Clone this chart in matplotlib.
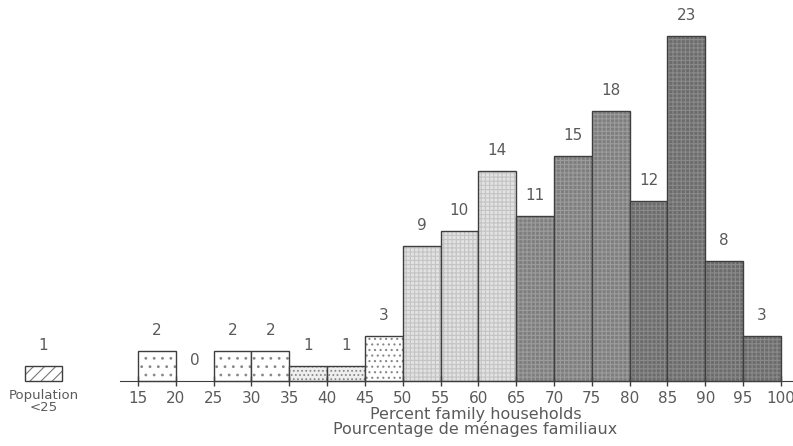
import numpy as np
import matplotlib.pyplot as plt

plt.rcParams['font.family'] = ['DejaVu Sans']
plt.rcParams['hatch.linewidth'] = 0.8

# bins (left edges) and counts
bin_left = [15, 20, 25, 30, 35, 40, 45, 50, 55, 60, 65, 70, 75, 80, 85, 90, 95]
counts = [2, 0, 2, 2, 1, 1, 3, 9, 10, 14, 11, 15, 18, 12, 23, 8, 3]
tick_vals = list(range(15, 101, 5))
pop_lt25 = 1

# shading class of each bin: face colour, hatch, hatch colour
faces = ['white'] * 4 + ['#eeeeee'] * 2 + ['white'] + ['#e2e2e2'] * 3 + ['#7e7e7e'] * 3 + ['#6c6c6c'] * 4
hatches = ['..'] * 4 + ['....'] * 2 + ['...'] + ['++++'] * 3 + ['++++'] * 3 + ['++++'] * 4
hcols = ['#888888'] * 7 + ['#c4c4c4'] * 3 + ['#9c9c9c'] * 3 + ['#8a8a8a'] * 4

txt = '#5a5a5a'
edge = '#3e3e3e'

fig = plt.figure(figsize=(7.93, 4.46), dpi=100)
ax = fig.add_axes([0, 0, 1, 1])
ax.set_xlim(-3.24, 101.6)
ax.set_ylim(-4.33, 25.4)

for x0, c, fc, h, hc in zip(bin_left, counts, faces, hatches, hcols):
    if c > 0:
        # fill + pattern, then the outline on top
        ax.bar(x0, c, width=5, align='edge', facecolor=fc, edgecolor=hc,
               hatch=h, linewidth=0)
        ax.bar(x0, c, width=5, align='edge', fill=False, edgecolor=edge,
               linewidth=1.0)
    ax.text(x0 + 2.5, c + 0.9, str(c), ha='center', va='bottom',
            fontsize=11, color=txt)

# legend box for population < 25
ax.bar(0, pop_lt25, width=5, align='edge', facecolor='white', edgecolor='#777777',
       hatch='///', linewidth=0)
ax.bar(0, pop_lt25, width=5, align='edge', fill=False, edgecolor=edge,
       linewidth=1.0)
ax.text(2.5, pop_lt25 + 0.9, str(pop_lt25), ha='center', va='bottom',
        fontsize=11, color=txt)
ax.text(2.5, -0.5, 'Population\n<25', ha='center', va='top',
        fontsize=9.5, color=txt, linespacing=0.95)

for s in ['top', 'right', 'left']:
    ax.spines[s].set_visible(False)
ax.spines['bottom'].set_position(('data', 0))
ax.spines['bottom'].set_bounds(12.6, 101.6)
ax.spines['bottom'].set_color(edge)
ax.set_yticks([])
ax.set_xticks(tick_vals)
ax.set_xticklabels([str(t) for t in tick_vals])
ax.tick_params(axis='x', direction='inout', length=7, width=1, colors=edge,
               labelcolor=txt, labelsize=11, pad=4)

ax.text(59.6, -1.75, 'Percent family households\nPourcentage de ménages familiaux',
        ha='center', va='top', fontsize=11.5, color=txt, linespacing=0.92)

fig.savefig('out.png', dpi=100)
